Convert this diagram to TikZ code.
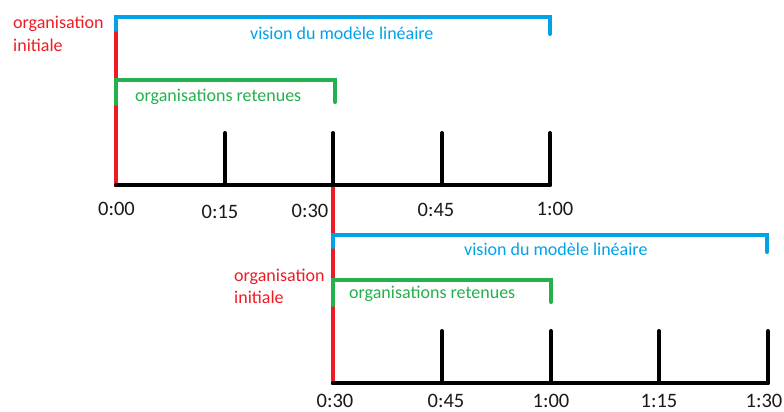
\documentclass[tikz,border=0pt]{standalone}
\usepackage{fontspec}
\setmainfont{Carlito}
\definecolor{pred}{HTML}{ED1C24}
\definecolor{pblue}{HTML}{00A2E8}
\definecolor{pgreen}{HTML}{22B14C}
\definecolor{pblack}{HTML}{000000}
\begin{document}
\begin{tikzpicture}[x=1pt,y=-1pt,
  bar/.style={line width=4pt,line cap=round,line join=miter},
  axis/.style={bar,pblack},
  txt/.style={inner sep=0pt,font=\fontsize{18}{22}\selectfont},
  tlabel/.style={inner sep=0pt,anchor=base,font=\fontsize{20.5}{24}\selectfont,text=black!90}]
\useasboundingbox (0,0) rectangle (784,412);
% ---------- top timeline ----------
\coordinate (a0) at (116,185);
\coordinate (a15) at (225,185);
\coordinate (a30) at (333,185);
\coordinate (a45) at (442,185);
\coordinate (a60) at (550,185);
\draw[bar,pred,line cap=butt] (116,30) -- (116,187);
\draw[axis] (a0) -- (a60);
\foreach \p in {a15,a30,a45,a60} \draw[axis] (\p) -- ++(0,-52);
\draw[bar,pblue] (116,30) -- (116,17) -- (550,17) -- (550,34);
\draw[bar,pgreen] (116,104) -- (116,80) -- (335,80) -- (335,102);
\node[txt,text=pblue,anchor=base west] (v1) at (250,40) {vision du modèle linéaire};
\node[txt,text=pgreen,anchor=base west] (g1) at (135,101) {organisations retenues};
\node[txt,text=pred,anchor=base west] (r1a) at (13,29) {organisation};
\node[txt,text=pred,anchor=base west] (r1b) at (13,52) {initiale};
\node[tlabel] (l00) at (116.5,215) {0:00};
\node[tlabel] (l15) at (220,218) {0:15};
\node[tlabel] (l30) at (310,217) {0:30};
\node[tlabel] (l45) at (436,216) {0:45};
\node[tlabel] (l60) at (555,215) {1:00};
% ---------- bottom timeline ----------
\coordinate (b30) at (333,383);
\coordinate (b45) at (442,383);
\coordinate (b60) at (551,383);
\coordinate (b75) at (659,383);
\coordinate (b90) at (768,383);
\draw[bar,pred,line cap=butt] (333,187) -- (333,385);
\draw[axis] (b30) -- (b90);
\foreach \p in {b45,b60,b75,b90} \draw[axis] (\p) -- ++(0,-52);
\draw[bar,pblue] (333,247) -- (333,235) -- (767,235) -- (767,252);
\draw[bar,pgreen] (333,305) -- (333,280) -- (551,280) -- (551,302);
\node[txt,text=pblue,anchor=base west] (v2) at (464,255) {vision du modèle linéaire};
\node[txt,text=pgreen,anchor=base west] (g2) at (349,298) {organisations retenues};
\node[txt,text=pred,anchor=base west] (r2a) at (234,281) {organisation};
\node[txt,text=pred,anchor=base west] (r2b) at (234,303) {initiale};
\node[tlabel] (m30) at (335,407) {0:30};
\node[tlabel] (m45) at (446,407) {0:45};
\node[tlabel] (m60) at (551,407) {1:00};
\node[tlabel] (m75) at (659,407) {1:15};
\node[tlabel] (m90) at (764,407) {1:30};
\end{tikzpicture}
\end{document}
